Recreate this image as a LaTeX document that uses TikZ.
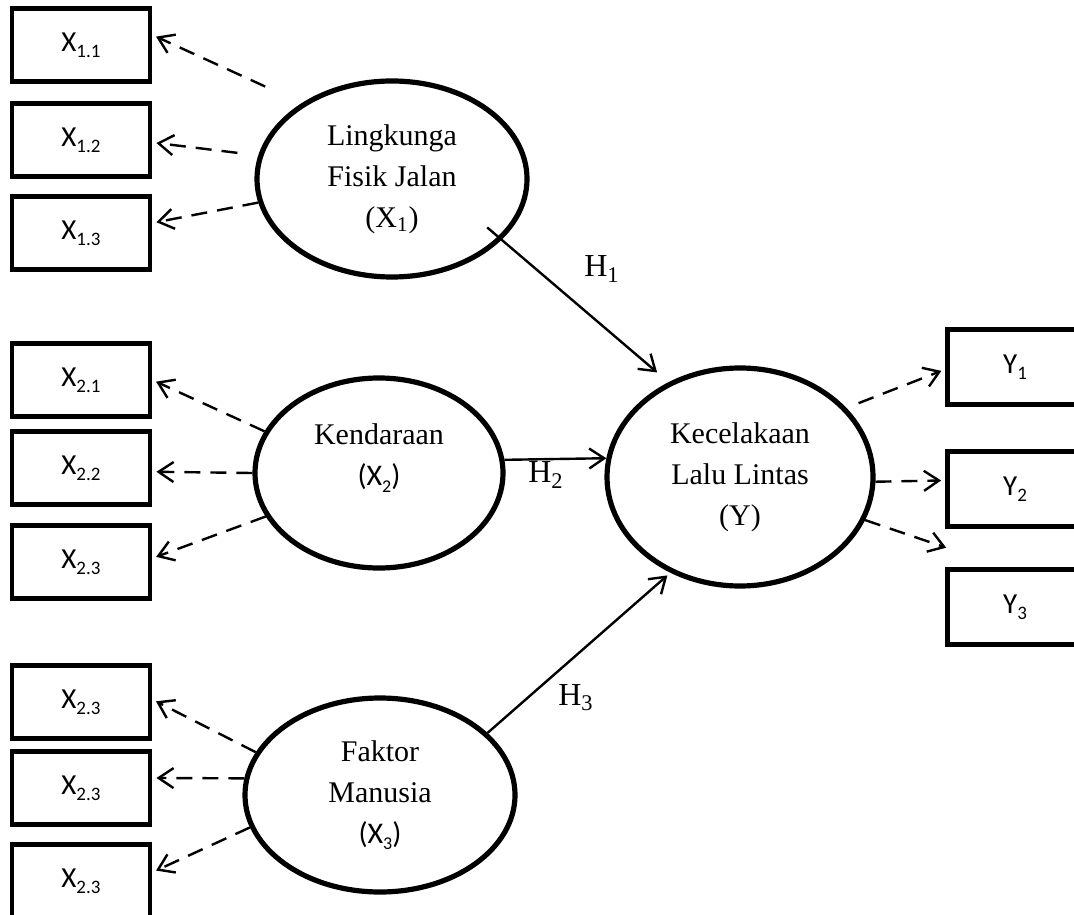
\documentclass[tikz,border=0pt]{standalone}
\usepackage{fontspec}
\setmainfont{Liberation Serif}
\newfontfamily\calibri{Carlito}
\usepackage{tikz}
\usetikzlibrary{arrows.meta, positioning, shapes.geometric}

\newcommand{\subtxt}[2][9.5]{\raisebox{-0.45ex}{\fontsize{#1}{#1}\selectfont #2}}

\begin{document}
\begin{tikzpicture}[x=0.5pt, y=-0.5pt,
    latent/.style={draw, ellipse, line width=2.6pt, inner sep=0pt, align=center, font=\fontsize{15}{20.5}\selectfont},
    indbox/.style={draw, rectangle, line width=2.4pt, minimum width=69pt, minimum height=36.5pt, font=\calibri\fontsize{14.5}{16}\selectfont},
    ind/.style={-{Straight Barb[length=7.5pt, width=10pt]}, line width=1.2pt, dash pattern=on 8pt off 5pt, shorten >=2pt},
    hyp/.style={-{Straight Barb[length=7.5pt, width=10pt]}, line width=1.2pt},
    hlbl/.style={font=\fontsize{16}{18}\selectfont}]
        \useasboundingbox (0,0) rectangle (1074,914);

        % Indicator boxes, left
        \foreach \name/\y/\lbl in {x11/45/1.1, x12/140/1.2, x13/233/1.3, x21/380/2.1, x22/468/2.2, x23/562/2.3, x31/702/2.3, x32/788/2.3, x33/881/2.3} {
            \node[indbox] (\name) at (81,\y) {X\subtxt{\lbl}};
        }

        % Indicator boxes, right
        \foreach \name/\y/\lbl in {y1/367/1, y2/489/2, y3/607/3} {
            \node[indbox, minimum width=67.5pt, minimum height=37.5pt] (\name) at (1015,\y) {Y\subtxt{\lbl}};
        }
        \coordinate (y3tip) at (950,549);

        % Latent variables
        \node[latent, minimum width=135pt, minimum height=98pt] (lfj) at (392,179) {Lingkunga\\Fisik Jalan\\(X\textsubscript{1})};
        \node[latent, minimum width=124pt, minimum height=95pt] (kend) at (379,473) {};
        \node[align=center, font=\fontsize{15}{20.5}\selectfont] (kendtxt) at ([yshift=7.5pt]kend.center) {Kendaraan\\{\calibri\fontsize{15}{16}\selectfont(X\subtxt[9]{2})}};
        \node[latent, minimum width=133pt, minimum height=109pt] (kll) at (740,477) {Kecelakaan\\Lalu Lintas\\(Y)};
        \node[latent, minimum width=135pt, minimum height=97pt] (fm) at (380,795) {Faktor\\Manusia\\{\calibri\fontsize{15}{16}\selectfont(X\subtxt[9]{3})}};

        % Loadings
        \draw[ind, shorten <=20pt] (lfj.140) -- (x11.8);
        \draw[ind, shorten <=10.5pt] (lfj.170) -- (x12.-2);
        \draw[ind] (lfj.190) -- (x13.8);
        \draw[ind] (kend.160) -- (x21.0);
        \draw[ind] (kend.180) -- (x22.-3);
        \draw[ind] (kend.201) -- (x23.3);
        \draw[ind] (fm.161) -- (x31.2);
        \draw[ind] (fm.173) -- (x32.8);
        \draw[ind] (fm.194) -- (x33.7);
        \draw[ind, shorten <=6.5pt] (kll.33) -- (y1.182);
        \draw[ind] (kll.-2) -- (y2.173);
        \draw[ind] (kll.-19) -- (y3tip);

        % Hypotheses
        \draw[hyp, shorten <=-9.5pt, shorten >=7.5pt] (lfj.-29) -- (kll.127);
        \draw[hyp] (kend.6.5) -- (kll.172);
        \draw[hyp, shorten >=2pt] (fm.30) -- (kll.234);
        \node[hlbl] (h1) at (602,269) {H\textsubscript{1}};
        \node[hlbl] (h2) at (546,475) {H\textsubscript{2}};
        \node[hlbl] (h3) at (576,698) {H\textsubscript{3}};
\end{tikzpicture}
\end{document}
